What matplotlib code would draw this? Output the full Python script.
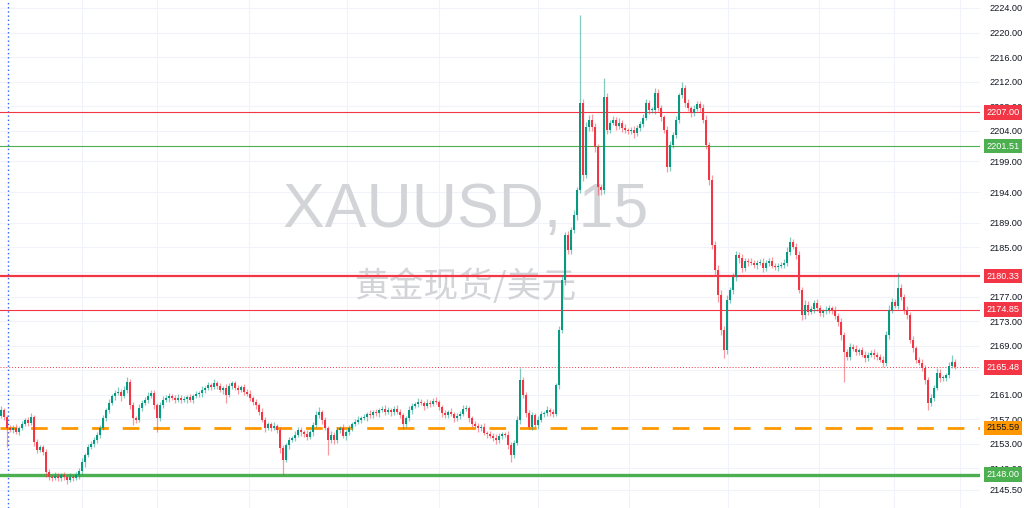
#plot.py


#COMMENT: Imports.

import matplotlib as mpl;
import matplotlib.pyplot as plt;
from matplotlib.transforms import blended_transform_factory;


#COMMENT: Chart data (XAUUSD, 15 min candles). Open of each candle is the previous close.

firstOpen = 2157.6;

closes = [
    2158.5, 2157.4, 2155.6, 2155.3, 2155.6, 2154.9, 2155.6, 2156.2, 2156.9, 2156.4, 2157.4, 2153.3, 2152.0, 2152.5, 2151.7, 2148.4, 2147.6, 2147.5, 2147.8, 2147.5,
    2147.9, 2147.6, 2147.1, 2147.6, 2147.5, 2147.9, 2148.6, 2150.1, 2151.2, 2152.5, 2153.0, 2153.6, 2154.5, 2155.6, 2157.2, 2158.5, 2159.7, 2160.8, 2161.3, 2161.5,
    2160.8, 2161.8, 2163.1, 2159.3, 2157.2, 2156.9, 2158.9, 2159.7, 2160.2, 2160.8, 2161.3, 2159.3, 2157.2, 2159.3, 2160.2, 2160.5, 2160.8, 2160.5, 2160.2, 2160.5,
    2160.2, 2160.3, 2160.6, 2160.2, 2160.8, 2161.1, 2161.3, 2161.8, 2162.1, 2162.6, 2162.3, 2162.9, 2162.4, 2161.8, 2162.1, 2161.0, 2162.4, 2162.9, 2162.1, 2161.8,
    2162.3, 2161.5, 2161.1, 2160.5, 2159.8, 2159.3, 2158.2, 2156.9, 2155.6, 2156.2, 2155.6, 2155.9, 2155.3, 2152.3, 2150.4, 2152.8, 2153.6, 2154.0, 2154.5, 2155.3,
    2154.9, 2154.6, 2154.1, 2154.9, 2156.1, 2157.7, 2158.2, 2156.9, 2155.6, 2153.6, 2154.5, 2153.6, 2155.3, 2155.6, 2154.3, 2154.9, 2155.6, 2156.2, 2156.6, 2156.9,
    2157.2, 2157.4, 2157.9, 2157.7, 2158.2, 2158.0, 2158.5, 2158.7, 2158.2, 2158.5, 2158.2, 2158.7, 2158.2, 2157.7, 2156.2, 2157.2, 2158.5, 2159.2, 2159.5, 2159.8,
    2159.7, 2159.2, 2159.7, 2159.5, 2160.0, 2159.8, 2159.0, 2158.0, 2157.7, 2158.2, 2157.9, 2157.2, 2157.5, 2157.9, 2158.7, 2158.9, 2157.2, 2156.2, 2155.9, 2155.6,
    2155.8, 2154.8, 2154.6, 2154.3, 2154.0, 2153.6, 2154.3, 2154.6, 2154.5, 2152.8, 2151.2, 2153.2, 2156.9, 2163.4, 2161.0, 2158.0, 2155.8, 2157.7, 2156.1, 2156.9,
    2157.9, 2158.0, 2158.5, 2158.2, 2157.9, 2162.6, 2171.6, 2179.7, 2187.0, 2184.6, 2187.8, 2190.3, 2194.4, 2208.5, 2196.8, 2204.6, 2205.8, 2204.6, 2201.4, 2194.8,
    2194.4, 2209.5, 2204.1, 2205.3, 2205.8, 2204.8, 2205.3, 2204.5, 2204.1, 2204.0, 2204.1, 2203.6, 2204.5, 2205.1, 2206.1, 2208.5, 2207.4, 2207.4, 2210.2, 2207.7,
    2206.2, 2204.1, 2198.1, 2201.7, 2203.3, 2205.8, 2209.8, 2211.0, 2208.5, 2207.7, 2206.9, 2207.6, 2208.4, 2207.7, 2205.8, 2201.7, 2196.0, 2185.4, 2181.3, 2177.3,
    2171.6, 2168.3, 2176.4, 2178.1, 2180.2, 2183.8, 2183.3, 2181.7, 2182.8, 2182.6, 2182.5, 2182.1, 2182.5, 2182.5, 2181.7, 2182.5, 2182.8, 2182.0, 2181.8, 2182.0,
    2182.1, 2182.5, 2184.3, 2185.9, 2185.1, 2183.8, 2178.1, 2174.0, 2175.6, 2174.5, 2175.0, 2176.0, 2175.1, 2174.3, 2174.6, 2174.8, 2175.1, 2174.8, 2173.8, 2172.9,
    2170.7, 2168.0, 2167.2, 2168.8, 2168.5, 2168.0, 2168.3, 2167.5, 2167.0, 2167.5, 2167.8, 2167.5, 2167.2, 2166.7, 2166.2, 2170.7, 2174.8, 2176.1, 2175.5, 2178.4,
    2176.9, 2174.8, 2174.0, 2169.9, 2168.6, 2166.7, 2166.2, 2165.4, 2163.4, 2159.7, 2160.5, 2162.1, 2164.6, 2163.7, 2163.7, 2164.2, 2165.7, 2166.3, 2165.5,
];

#COMMENT: Upper wick (above body top) and lower wick (below body bottom), in price units.

upperWicks = [
    0.6, 0.4, 0.3, 0.5, 0.4, 0.6, 0.3, 0.5, 0.4, 0.5, 0.6, 0.3, 0.5, 0.4, 0.3, 0.4, 0.5, 0.3, 0.6, 0.4,
    0.4, 0.5, 0.3, 0.6, 0.4, 0.5, 0.4, 0.6, 0.3, 0.5, 0.4, 0.6, 0.5, 0.4, 0.5, 0.3, 0.6, 0.4, 0.5, 0.7,
    0.5, 0.6, 0.8, 0.4, 0.5, 0.3, 0.6, 0.4, 0.5, 0.7, 0.5, 0.4, 0.3, 0.5, 0.6, 0.4, 0.5, 0.3, 0.4, 0.6,
    0.4, 0.5, 0.3, 0.6, 0.4, 0.5, 0.3, 0.6, 0.4, 0.5, 0.4, 0.6, 0.3, 0.5, 0.4, 0.6, 0.5, 0.3, 0.4, 0.5,
    0.3, 0.5, 0.4, 0.6, 0.3, 0.5, 0.4, 0.6, 0.5, 0.4, 0.3, 0.6, 0.4, 0.5, 0.6, 0.4, 0.5, 0.3, 0.6, 0.4,
    0.5, 0.3, 0.6, 0.4, 0.5, 0.6, 0.8, 0.4, 0.5, 0.3, 0.6, 0.4, 0.5, 0.3, 0.6, 0.4, 0.5, 0.3, 0.4, 0.6,
    0.4, 0.5, 0.3, 0.6, 0.4, 0.5, 0.3, 0.4, 0.6, 0.5, 0.3, 0.4, 0.6, 0.5, 0.4, 0.3, 0.6, 0.5, 0.4, 0.6,
    0.5, 0.3, 0.6, 0.4, 0.5, 0.6, 0.4, 0.3, 0.5, 0.4, 0.6, 0.3, 0.5, 0.4, 0.6, 0.5, 0.3, 0.4, 0.6, 0.5,
    0.4, 0.6, 0.3, 0.5, 0.4, 0.6, 0.5, 0.3, 0.4, 0.6, 0.5, 0.4, 0.6, 2.0, 0.5, 0.4, 0.6, 0.5, 0.3, 0.6,
    0.5, 0.4, 0.6, 0.3, 0.5, 0.4, 0.6, 0.8, 0.5, 0.7, 0.6, 0.8, 0.5, 14.4, 0.6, 0.8, 0.7, 0.9, 0.6, 0.5,
    0.6, 3.1, 0.7, 0.5, 0.6, 0.4, 0.7, 0.5, 0.6, 0.4, 0.5, 0.6, 0.4, 0.5, 0.7, 0.6, 0.5, 0.4, 0.8, 0.6,
    0.5, 0.4, 0.6, 0.7, 0.5, 0.6, 0.4, 0.9, 0.5, 0.6, 0.4, 0.6, 0.5, 0.4, 0.6, 0.7, 0.5, 0.8, 0.6, 0.9,
    0.7, 0.6, 0.8, 0.5, 0.6, 0.7, 0.5, 0.6, 0.4, 0.5, 0.6, 0.4, 0.5, 0.6, 0.7, 0.5, 0.4, 0.6, 0.5, 0.4,
    0.5, 0.6, 0.7, 0.8, 0.5, 0.6, 0.7, 0.5, 0.8, 0.6, 0.5, 0.4, 0.6, 0.5, 0.4, 0.6, 0.5, 0.4, 0.6, 0.5,
    0.6, 0.5, 0.4, 0.7, 0.5, 0.6, 0.4, 0.5, 0.6, 0.4, 0.5, 0.6, 0.4, 0.5, 0.6, 0.7, 0.8, 0.6, 0.5, 2.5,
    0.6, 0.5, 0.7, 0.5, 0.6, 0.4, 0.5, 0.6, 0.4, 0.5, 0.6, 0.5, 0.7, 0.6, 0.5, 0.4, 0.6, 1.2, 0.5,
];

lowerWicks = [
    0.4, 0.5, 3.1, 0.4, 0.6, 0.3, 0.5, 0.4, 0.3, 0.5, 0.4, 0.6, 0.5, 0.4, 0.5, 0.8, 0.4, 0.6, 0.3, 0.5,
    0.6, 0.4, 0.7, 0.3, 0.5, 0.4, 0.6, 0.5, 0.8, 0.4, 0.3, 0.5, 0.4, 0.6, 0.3, 0.5, 0.4, 0.3, 0.6, 0.4,
    0.8, 0.4, 0.5, 0.6, 1.2, 0.5, 0.4, 0.6, 0.3, 0.5, 0.4, 0.6, 2.3, 0.4, 0.5, 0.3, 0.6, 0.4, 0.5, 0.3,
    0.5, 0.3, 0.6, 0.4, 0.5, 0.3, 0.4, 0.6, 0.5, 0.3, 0.6, 0.4, 0.5, 0.3, 0.6, 1.3, 0.4, 0.5, 0.3, 0.6,
    0.4, 0.6, 0.3, 0.5, 0.4, 0.6, 0.5, 0.3, 0.6, 0.4, 0.5, 0.3, 0.6, 0.8, 2.5, 0.4, 0.6, 0.3, 0.5, 0.4,
    0.6, 0.4, 0.5, 0.3, 0.6, 0.4, 0.5, 0.6, 0.4, 2.4, 0.5, 0.6, 0.4, 0.5, 0.3, 0.6, 0.4, 0.5, 0.3, 0.4,
    0.5, 0.3, 0.6, 0.4, 0.5, 0.4, 0.6, 0.3, 0.5, 0.4, 0.6, 0.5, 0.3, 0.4, 0.8, 0.5, 0.4, 0.6, 0.3, 0.5,
    0.4, 0.6, 0.3, 0.5, 0.4, 0.3, 0.5, 0.6, 0.4, 0.5, 0.3, 0.6, 0.4, 0.5, 0.3, 0.4, 0.6, 0.5, 0.4, 0.6,
    0.5, 0.3, 0.6, 0.4, 0.5, 0.6, 0.4, 0.5, 0.3, 0.6, 1.1, 0.5, 0.4, 0.6, 0.5, 0.6, 0.4, 0.5, 0.4, 0.6,
    0.3, 0.5, 0.4, 0.6, 0.5, 0.4, 0.7, 0.6, 0.8, 0.6, 0.7, 0.5, 0.8, 0.6, 0.9, 0.5, 0.7, 0.6, 0.8, 1.3,
    0.8, 0.7, 0.6, 0.5, 0.4, 0.6, 0.5, 0.7, 0.4, 0.6, 0.5, 0.7, 0.4, 0.6, 0.5, 0.4, 0.6, 0.5, 0.7, 0.5,
    0.6, 0.5, 0.8, 0.6, 0.5, 0.4, 0.6, 0.5, 0.7, 0.4, 0.6, 0.5, 0.4, 0.6, 0.5, 0.7, 0.8, 0.6, 0.9, 1.2,
    0.9, 1.3, 0.6, 0.5, 0.7, 0.6, 0.8, 0.7, 0.5, 0.6, 0.4, 0.5, 0.6, 0.4, 0.7, 0.5, 0.6, 0.4, 0.5, 0.6,
    0.4, 0.5, 0.6, 0.5, 0.4, 0.7, 0.6, 0.9, 0.6, 0.5, 0.4, 0.6, 0.5, 0.4, 0.6, 0.5, 0.4, 0.6, 0.5, 0.7,
    0.8, 4.9, 0.6, 0.5, 0.4, 0.6, 0.5, 0.4, 0.7, 0.5, 0.4, 0.6, 0.5, 0.4, 0.6, 0.5, 0.6, 0.5, 0.4, 0.6,
    0.5, 0.6, 0.7, 0.5, 0.6, 0.5, 0.4, 0.6, 0.7, 1.2, 0.6, 0.5, 0.4, 0.6, 0.5, 0.4, 0.5, 0.4, 0.3,
];

#COMMENT: Price scale tick labels (2165.00 sits fully under the last-price label, so it is not drawn).

gridPrices = [2224, 2220, 2216, 2212, 2208, 2204, 2199, 2194, 2189, 2185, 2181, 2177, 2173, 2169, 2165, 2161, 2157, 2153, 2149, 2145.5];
priceTicks = [2224, 2220, 2216, 2212, 2208, 2204, 2199, 2194, 2189, 2185, 2181, 2177, 2173, 2169, 2161, 2157, 2153, 2149, 2145.5];

#COMMENT: Session boundaries (candle index) for the vertical grid.

sessionBreaks = [27, 52, 82.7, 115.3, 146, 179, 209.3, 242.3, 272.7, 297.7, 319.7];

#COMMENT: Horizontal levels: (price, colour, line style, line width, label text colour).

levels = [
    (2207.00, '#f23645', '-', 0.8, 'white'),
    (2201.51, '#4caf50', '-', 0.8, 'white'),
    (2180.33, '#f23645', '-', 1.6, 'white'),
    (2174.85, '#f23645', '-', 0.8, 'white'),
    (2165.48, '#f23645', (0, (1, 2)), 0.7, 'white'),
    (2155.59, '#ff9800', (0, (6, 5)), 2.0, '#131722'),
    (2148.00, '#4caf50', '-', 2.4, 'white'),
];


#COMMENT: Build OHLC.

opens = [firstOpen] + closes[:-1];
highs = [max(o, c) + u for o, c, u in zip(opens, closes, upperWicks)];
lows = [min(o, c) - d for o, c, d in zip(opens, closes, lowerWicks)];

upColour = '#089981';
downColour = '#f23645';

mpl.rc('font', **{ 'family' : ['Liberation Sans', 'DejaVu Sans'] });


#COMMENT: Figure and axes (chart pane plus room on the right for the price scale).

fig = plt.figure(figsize = (10.24, 5.08), dpi = 100);
ax = fig.add_axes([0.0, 0.0, 980 / 1024, 1.0]);

ax.set_xlim(-0.33, 326.33);
ax.set_ylim(2142.56, 2225.3);

for spine in ax.spines.values():
    spine.set_visible(False);

#COMMENT: Grid.

for p in gridPrices:
    ax.axhline(p, color = '#f0f3fa', linewidth = 0.8, zorder = 0);
for s in sessionBreaks:
    ax.axvline(s, color = '#f0f3fa', linewidth = 0.8, zorder = 0);

#COMMENT: Watermark.

ax.text(0.475, 0.585, "XAUUSD, 15", transform = ax.transAxes, ha = 'center', va = 'center',
        fontsize = 45, family = ['Liberation Sans', 'DejaVu Sans'], color = '#d3d4d8', zorder = 0);
ax.text(0.475, 0.435, "黄金现货/美元", transform = ax.transAxes, ha = 'center', va = 'center',
        fontsize = 25, family = ['Noto Sans CJK SC', 'DejaVu Sans'], color = '#d3d4d8', zorder = 0);

#COMMENT: Blue dotted vertical marker on the left.

ax.axvline(2.3, color = '#2962ff', linestyle = (0, (1, 2)), linewidth = 1.0, zorder = 1);

#COMMENT: Horizontal levels.

for price, colour, style, width, textColour in levels:
    ax.axhline(price, color = colour, linestyle = style, linewidth = width, zorder = 1);

#COMMENT: Candles.

xs = list(range(len(closes)));
colours = [upColour if c >= o else downColour for o, c in zip(opens, closes)];
ax.vlines(xs, lows, highs, colors = colours, linewidth = 0.9, alpha = 0.5, zorder = 2);
bottoms = [min(o, c) for o, c in zip(opens, closes)];
heights = [max(abs(c - o), 0.15) for o, c in zip(opens, closes)];
ax.bar(xs, heights, bottom = bottoms, width = 0.66, color = colours, linewidth = 0, zorder = 3);

#COMMENT: Price scale.

ax.yaxis.tick_right();
ax.set_yticks(priceTicks);
ax.set_yticklabels(["%.2f" % p for p in priceTicks]);
ax.tick_params(axis = 'y', length = 0, pad = 7, labelsize = 6.6, labelcolor = '#131722');
ax.set_xticks([]);

#COMMENT: Price labels for the levels.

trans = blended_transform_factory(ax.transAxes, ax.transData);
for price, colour, style, width, textColour in levels:
    ax.text(1.0235, price, "%.2f" % price, transform = trans, ha = 'center', va = 'center',
            fontsize = 6.6, color = textColour, clip_on = False, zorder = 5,
            bbox = dict(boxstyle = 'square,pad=0.3', fc = colour, ec = 'none'));

plt.savefig("out.png", format = 'png', dpi = 100);
plt.close();
